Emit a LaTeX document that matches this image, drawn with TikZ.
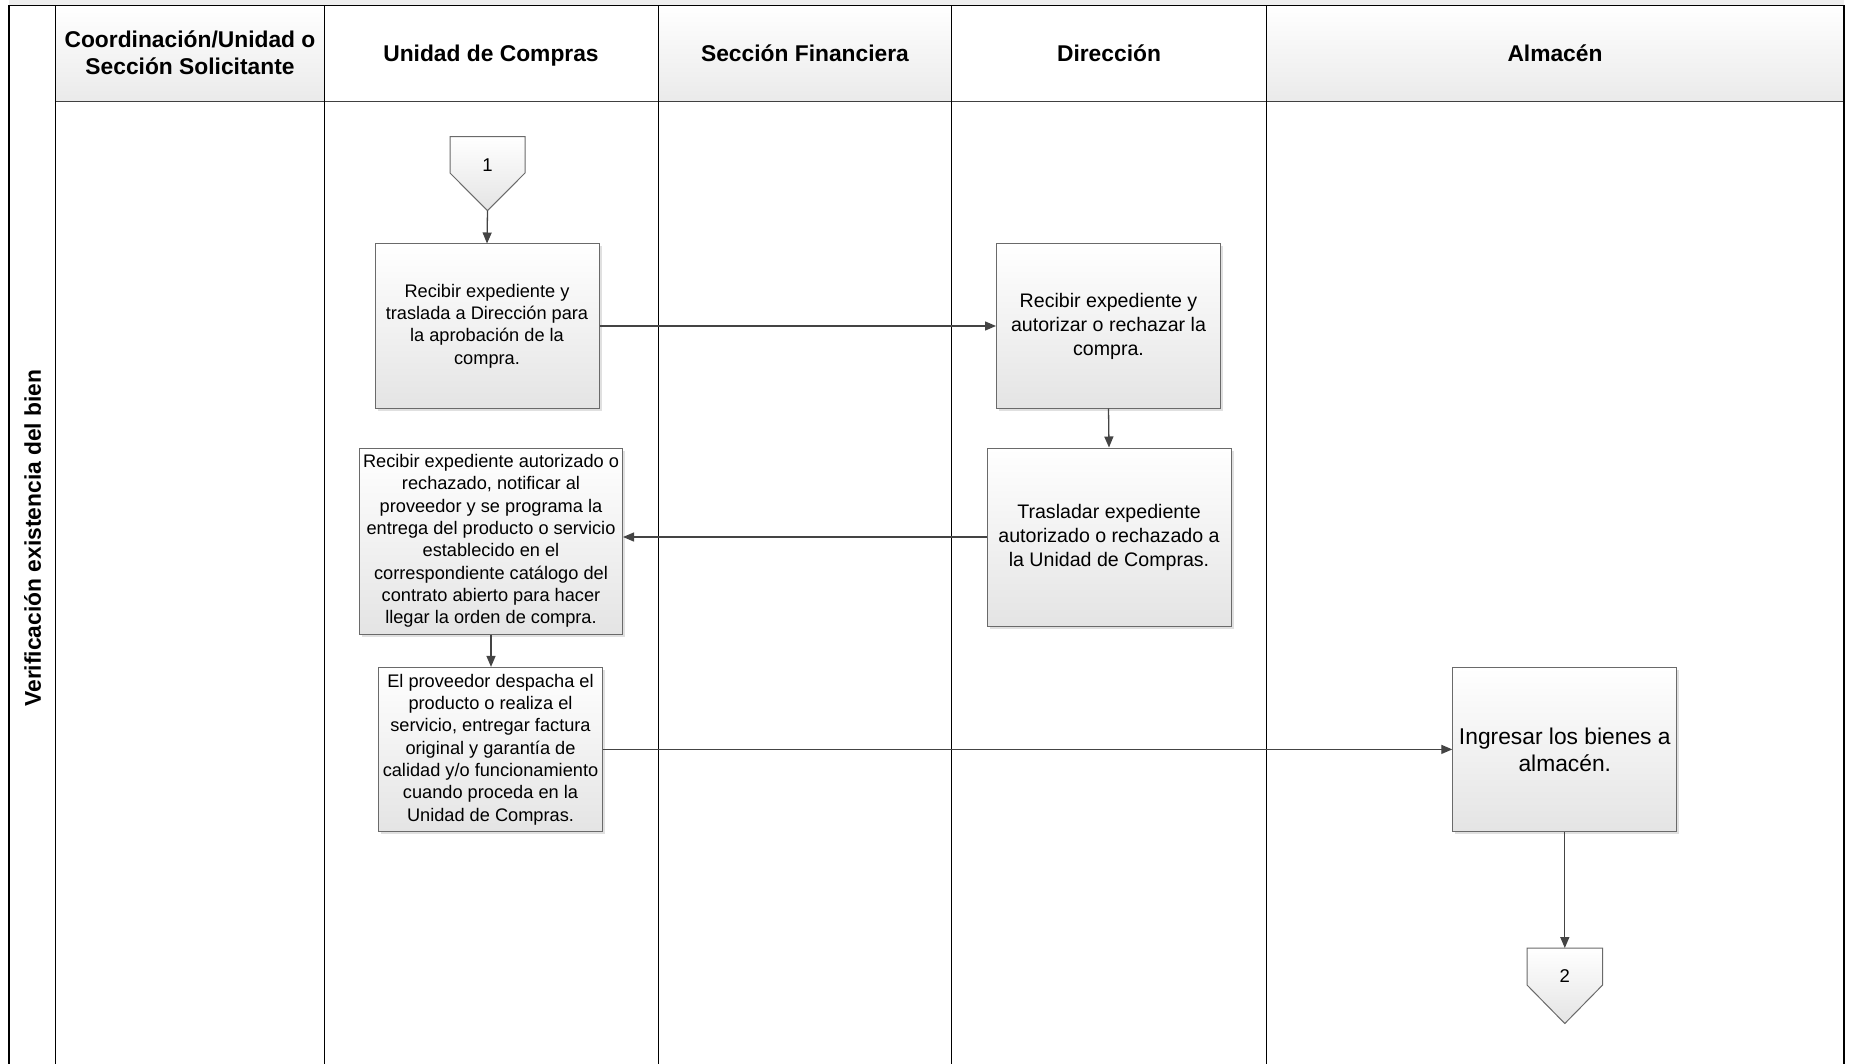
\documentclass[tikz,border=0pt]{standalone}
\usepackage{fontspec}
\setmainfont{Liberation Sans}
\usetikzlibrary{arrows.meta,shadows,shapes.geometric}
\definecolor{boxline}{HTML}{6A6A6A}
\definecolor{boxbot}{HTML}{E4E4E4}
\definecolor{hdrbot}{HTML}{EAEAEA}
\definecolor{arrowc}{HTML}{444444}
\definecolor{stripc}{HTML}{EEEEEE}
\tikzset{
  procbox/.style={draw=boxline, line width=1pt, top color=white, bottom color=boxbot,
    align=center, inner sep=0pt, text=black,
    drop shadow={shadow xshift=2.5pt, shadow yshift=-2.5pt, fill=black, opacity=0.12}},
  smalltxt/.style={font=\fontsize{18.2}{22.3}\selectfont},
  midtxt/.style={font=\fontsize{19.6}{24}\selectfont},
  bigtxt/.style={font=\fontsize{22.8}{27}\selectfont},
  hdrtxt/.style={font=\fontsize{22.8}{27}\selectfont\bfseries, align=center},
  onehdr/.style={font=\fontsize{22.8}{27}\selectfont\bfseries, text height=16.5pt, text depth=0pt, anchor=center},
  lane/.style={line width=1.2pt, draw=black},
  flow/.style={draw=arrowc, line width=1.3pt, -{Triangle[length=11pt,width=9pt]}},
  offpage/.style={draw=boxline, line width=1pt, top color=white, bottom color=boxbot},
  digit/.style={font=\fontsize{18.5}{22}\selectfont},
}
\begin{document}
\begin{tikzpicture}[x=1pt,y=-1pt]
\useasboundingbox (0,0) rectangle (1849,1064);
% top strip of the pool title
\fill[stripc] (9,0) rectangle (1844,5.3);
% headers
\shade[top color=white, bottom color=hdrbot] (55.7,5.3) rectangle (324.3,101.7);
\fill[white] (324.3,5.3) rectangle (658,101.7);
\shade[top color=white, bottom color=hdrbot] (658,5.3) rectangle (951.6,101.7);
\fill[white] (951.6,5.3) rectangle (1266.5,101.7);
\shade[top color=white, bottom color=hdrbot] (1266.5,5.3) rectangle (1844,101.7);
\node[hdrtxt] (h1) at (190,53) {Coordinación/Unidad o\\Sección Solicitante};
\node[onehdr] (h2) at (491,53.5) {Unidad de Compras};
\node[onehdr] (h3) at (805,53.5) {Sección Financiera};
\node[onehdr] (h4) at (1109,53.5) {Dirección};
\node[onehdr] (h5) at (1555,53.5) {Almacén};
% frame and lanes
\draw[line width=1.5pt, draw=black!75] (55.7,101.7) -- (1844,101.7);
\draw[lane] (9,5.3) -- (1844,5.3);
\foreach \xx in {9,55.7,324.3,658.3,951.6,1266.5,1844}{
  \draw[lane] (\xx,5.3) -- (\xx,1064);
}
\node[rotate=90, font=\fontsize{22.8}{27}\selectfont\bfseries] (lanelabel) at (32.5,538) {Verificación existencia del bien};
% off-page connectors
\draw[offpage] (450,136.7) -- (525,136.7) -- (525,173) -- (487.5,210.7) -- (450,173) -- cycle;
\node[digit] (c1) at (487.5,165) {1};
\coordinate (c1bot) at (487.5,210.7);
\draw[offpage] (1527,948) -- (1602.6,948) -- (1602.6,985) -- (1564.8,1023.5) -- (1527,985) -- cycle;
\node[digit] (c2) at (1564.8,976) {2};
\coordinate (c2top) at (1564.8,948);
% process boxes
\node[procbox, smalltxt, minimum width=224pt, minimum height=164pt] (b1) at (487,326)
  {Recibir expediente y\\traslada a Dirección para\\la aprobación de la\\compra.};
\node[procbox, midtxt, minimum width=224pt, minimum height=164pt] (b2) at (1108.5,326)
  {Recibir expediente y\\autorizar o rechazar la\\compra.};
\node[procbox, midtxt, minimum width=244pt, minimum height=178pt] (b3) at (1109,537)
  {Trasladar expediente\\autorizado o rechazado a\\la Unidad de Compras.};
\node[procbox, smalltxt, minimum width=263pt, minimum height=186pt] (b4) at (491,541)
  {Recibir expediente autorizado o\\rechazado, notificar al\\proveedor y se programa la\\entrega del producto o servicio\\establecido en el\\correspondiente catálogo del\\contrato abierto para hacer\\llegar la orden de compra.};
\node[procbox, smalltxt, minimum width=224pt, minimum height=164pt] (b5) at (490.5,749.4)
  {El proveedor despacha el\\producto o realiza el\\servicio, entregar factura\\original y garantía de\\calidad y/o funcionamiento\\cuando proceda en la\\Unidad de Compras.};
\node[procbox, bigtxt, minimum width=224pt, minimum height=164pt] (b6) at (1564.8,749.4)
  {Ingresar los bienes a\\almacén.};
% connectors
\draw[flow] (c1bot) -- (b1.north);
\draw[flow] (b1.east) -- (b2.west);
\draw[flow] (b2.south) -- (b3.north);
\draw[flow] (b3.west) -- (b3.west -| b4.east);
\draw[flow] (b4.south) -- (b4.south |- b5.north);
\draw[flow] (b5.east) -- (b6.west);
\draw[flow] (b6.south) -- (c2top);
\end{tikzpicture}
\end{document}
